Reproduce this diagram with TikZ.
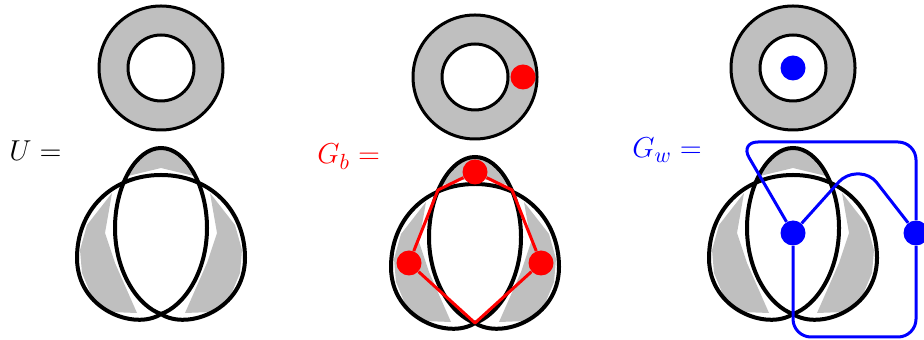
\documentclass[tikz,border=0pt]{standalone}
\usepackage{xcolor}
\usepackage{tikz}

\begin{document}
\begin{tikzpicture}[
    x=0.5pt, y=-0.5pt,
    rim/.style={draw, line width=1.5pt},
    curve/.style={draw, line width=2pt},
    shaded/.style={fill=black!25},
    bvert/.style={circle, fill=red, inner sep=0pt, minimum size=12.5pt},
    wvert/.style={circle, fill=blue, inner sep=0pt, minimum size=12.5pt},
    bline/.style={draw=red, line width=1.5pt, line join=round},
    wline/.style={draw=blue, line width=1.5pt, rounded corners=9pt},
    lbl/.style={anchor=base west, inner sep=0pt, font=\fontsize{15}{18}\selectfont},
]
  \useasboundingbox (0,0) rectangle (924,340);

  \foreach \dx/\dy in {0/0, 314/9, 632/0} {
    \begin{scope}[shift={(\dx,\dy)}]
      \fill[shaded, even odd rule] (161,68) circle[radius=62] (161,68) circle[radius=33];
      \draw[rim] (161,68) circle[radius=62] (161,68) circle[radius=33];
      \fill[shaded] (128,176) -- (140,160) -- (154,149) -- (168,149) -- (182,160)
                    -- (194,176) -- (161,168) -- cycle;
      \fill[shaded] (112,193) -- (87,225) -- (80,250) -- (82,273) -- (92,297)
                    -- (110,312) -- (137,313) -- (115,263) -- (105,233) -- cycle;
      \fill[shaded] (210,193) -- (235,225) -- (242,250) -- (240,273) -- (230,297)
                    -- (212,312) -- (185,313) -- (207,263) -- (217,233) -- cycle;
      \draw[curve] (161,148) .. controls (136,148) and (115,186) .. (115,228)
                   .. controls (115,272) and (138,306) .. (161,314)
                   .. controls (184,306) and (207,272) .. (207,228)
                   .. controls (207,186) and (186,148) .. (161,148) -- cycle;
      \draw[curve] (161,314) .. controls (135,331) and (77,310) .. (77,258)
                   .. controls (77,210) and (112,175) .. (161,175)
                   .. controls (210,175) and (245,210) .. (245,258)
                   .. controls (245,310) and (187,331) .. (161,314) -- cycle;
    \end{scope}
  }

  \node[lbl] (u) at (9,161) {$U =$};
  \node[lbl, text=red] (gb) at (317,164) {$G_b =$};
  \node[lbl, text=blue] (gw) at (632,158) {$G_w =$};

  % black graph
  \node[bvert] (bo) at (523,77) {};
  \node[bvert] (bt) at (475,172) {};
  \node[bvert] (bl) at (409,263) {};
  \node[bvert] (br) at (541,263) {};
  \coordinate (bxl) at (438,190);
  \coordinate (bxr) at (512,190);
  \coordinate (bcusp) at (475,323);
  \draw[bline] (bt) -- (bxl) -- (bl) -- (bcusp) -- (br) -- (bxr) -- (bt);

  % white graph
  \node[wvert] (wo) at (793,68) {};
  \node[wvert] (wc) at (793,233) {};
  \node[wvert] (wr) at (916,233) {};
  \coordinate (wtl) at (740,142);
  \coordinate (wtr) at (916,142);
  \coordinate (wbr) at (916,337);
  \coordinate (wbl) at (793,337);
  \coordinate (whl) at (846,174);
  \coordinate (whr) at (870,174);
  \draw[wline] (wc) -- (wtl) -- (wtr) -- (wr);
  \draw[wline] (wr) -- (wbr) -- (wbl) -- (wc);
  \draw[wline, rounded corners=5pt] (wc) -- (whl) -- (whr) -- (wr);
\end{tikzpicture}
\end{document}
